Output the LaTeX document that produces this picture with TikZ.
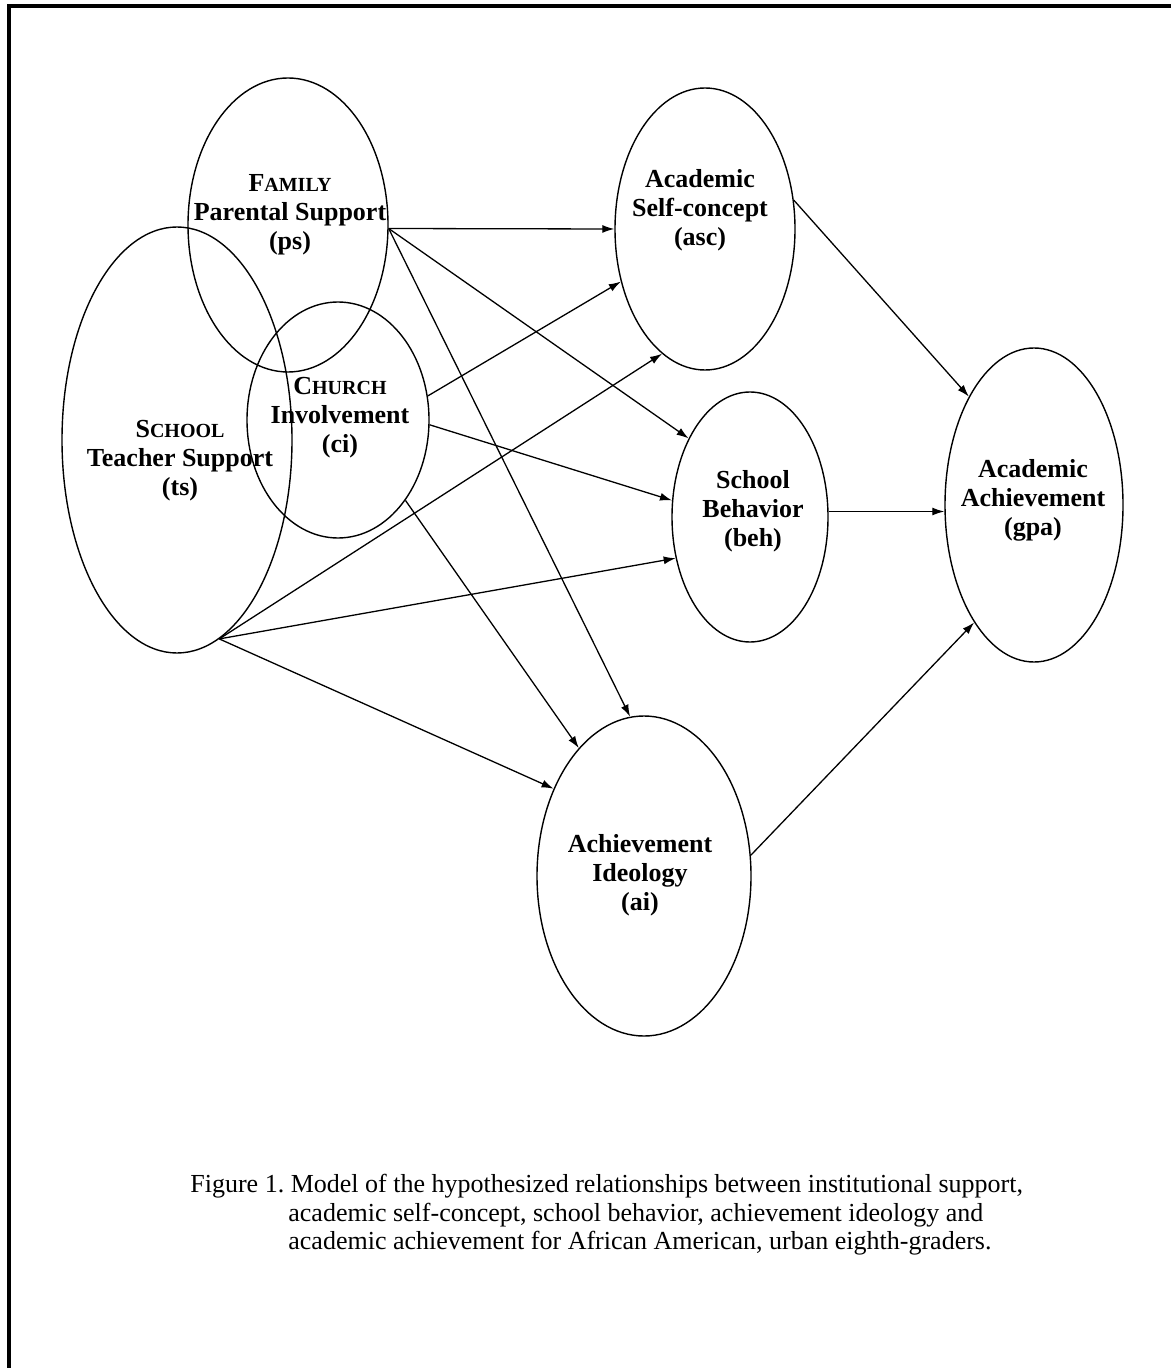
\documentclass[tikz,border=0pt]{standalone}
\usepackage{fontspec}
\setmainfont{Liberation Serif}
\usetikzlibrary{shapes.geometric,arrows.meta}
\newcommand{\capsc}[2]{#1{\fontsize{10}{12}\selectfont #2}}
\frenchspacing

\begin{document}
\begin{tikzpicture}[
  x=0.5pt, y=-0.5pt,
  oval/.style={ellipse, draw, line width=0.7pt, inner sep=0pt},
  lbl/.style={align=center, inner sep=0pt, font=\fontsize{13}{14.5}\selectfont\bfseries},
  link/.style={-{Latex[length=6pt,width=4pt]}, line width=0.65pt}
]
  \useasboundingbox (0,0) rectangle (1171,1368);
  \draw[line width=1.6pt] (9,1368) -- (9,6) -- (1171,6);

  % Institutional support
  \node[oval, minimum width=100pt, minimum height=147pt] (ps) at (288,225) {};
  \node[oval, minimum width=115pt, minimum height=213pt] (ts) at (177,440) {};
  \node[oval, minimum width=91pt, minimum height=118pt] (ci) at (338,420) {};
  \node[lbl] (pstext) at (290,215) {\capsc{F}{AMILY}\\Parental Support\\(ps)};
  \node[lbl] (tstext) at (180,461) {\capsc{S}{CHOOL}\\Teacher Support\\(ts)};
  \node[lbl] (citext) at (340,418) {\capsc{C}{HURCH}\\Involvement\\(ci)};

  % Mediators
  \node[oval, minimum width=90pt, minimum height=141pt] (asc) at (705,229) {};
  \node[oval, minimum width=78pt, minimum height=125pt] (beh) at (750,517) {};
  \node[oval, minimum width=107pt, minimum height=160pt] (ai) at (644,876) {};
  \node[lbl] (asctext) at (700,210) {Academic\\Self-concept\\(asc)};
  \node[lbl] (behtext) at (753,511) {School\\Behavior\\(beh)};
  \node[lbl] (aitext) at (640,875) {Achievement\\Ideology\\(ai)};

  % Outcome
  \node[oval, minimum width=89pt, minimum height=157pt] (gpa) at (1034,505) {};
  \node[lbl] (gpatext) at (1033,500) {Academic\\Achievement\\(gpa)};

  % Paths
  \draw[link] (ps.-2) -- (asc.west);
  \draw[link] (ps.-2) -- (beh.128);
  \draw[link] (ps.-2) -- (ai.95);
  \draw[link] (ci.15) -- (asc.212);
  \draw[link] (ci.-3) -- (beh.168);
  \draw[link] (ci.-50) -- (ai.117);
  \draw[link] (ts.-78) -- (asc.251);
  \draw[link] (ts.-78) -- (beh.209);
  \draw[link] (ts.-78) -- (ai.136);
  \draw[link] (asc.18) -- (gpa.121);
  \draw[link] (beh.4) -- (beh.4 -| gpa.west);
  \draw[link] (ai.11) -- (gpa.243);

  % Caption
  \node[anchor=north west, align=left, inner sep=0pt, font=\fontsize{13}{14.3}\selectfont] (caption) at (190,1174)
    {Figure 1. Model of the hypothesized relationships between institutional support,\\
     \hspace*{49pt}academic self-concept, school behavior, achievement ideology and\\
     \hspace*{49pt}academic achievement for African American, urban eighth-graders.};
\end{tikzpicture}
\end{document}
